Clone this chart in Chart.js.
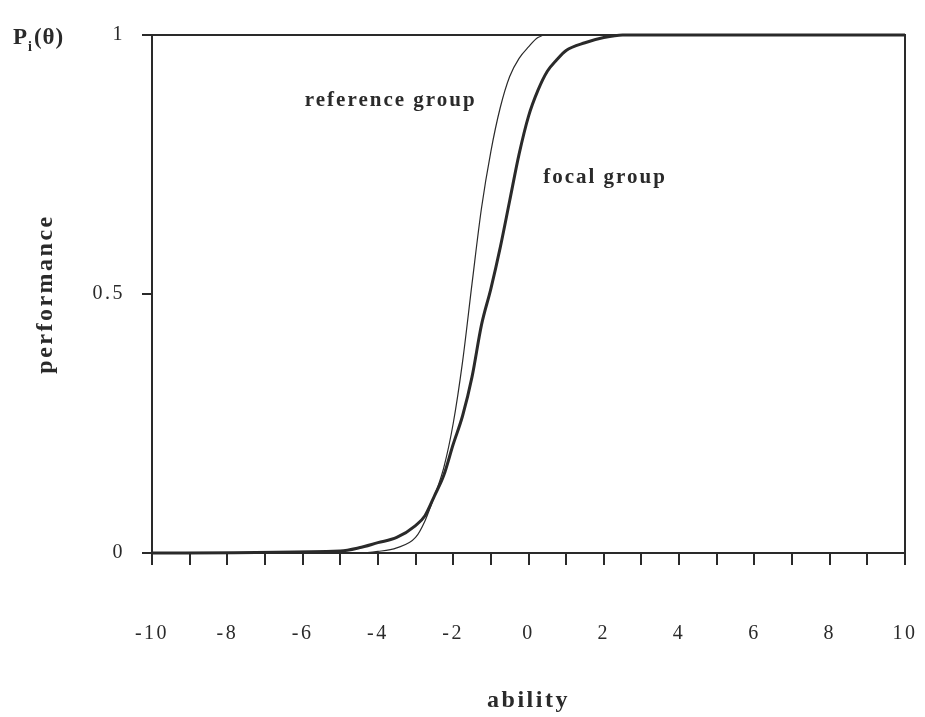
<!DOCTYPE html>
<html>
<head>
<meta charset="utf-8">
<script src="https://cdn.jsdelivr.net/npm/chart.js@4/dist/chart.umd.min.js"></script>
<style>
  html, body { margin: 0; padding: 0; background: #fff; }
  canvas { display: block; }
</style>
</head>
<body>
<canvas id="iccChart" width="925" height="717"></canvas>
<script>
// ability values (x) shared by both curves
const ability = [-10, -5, -4.5, -4, -3.5, -3, -2.75, -2.5, -2.25, -2, -1.75, -1.5, -1.25, -1,
    -0.75, -0.5, -0.25, 0, 0.25, 0.5, 0.75, 1, 1.5, 2, 2.5, 3, 4, 6, 8, 10];

// performance P_i(theta)
const referenceGroup = [0, 0, 0, 0.003, 0.01, 0.03, 0.062, 0.11, 0.165, 0.25, 0.37, 0.52, 0.665, 0.775,
    0.86, 0.92, 0.955, 0.977, 0.995, 1, 1, 1, 1, 1, 1, 1, 1, 1, 1, 1];
const focalGroup = [0, 0.004, 0.01, 0.02, 0.03, 0.053, 0.072, 0.11, 0.15, 0.21, 0.265, 0.34, 0.44, 0.51,
    0.59, 0.68, 0.77, 0.843, 0.893, 0.93, 0.952, 0.97, 0.985, 0.995, 1, 1, 1, 1, 1, 1];

const yTicks = [0, 0.5, 1];

// curve labels in data coordinates
const curveLabels = [
    { text: 'reference group', x: -5.94, y: 0.874 },
    { text: 'focal group', x: 0.39, y: 0.725 }
];

const INK = '#2a2a2a';
const SERIF = '"Liberation Serif", "Times New Roman", serif';

function toPoints(ys) {
    return ability.map((x, i) => ({ x: x, y: ys[i] }));
}

// the scanned type is widely spaced
const spacing = {
    id: 'spacing',
    beforeDraw(chart) { chart.ctx.letterSpacing = '2.5px'; }
};

// box round the plot, curve labels and the P_i(θ) heading
const decorations = {
    id: 'decorations',
    afterDraw(chart) {
        const ctx = chart.ctx;
        const area = chart.chartArea;
        const xs = chart.scales.x;
        const ys = chart.scales.y;
        ctx.save();
        ctx.strokeStyle = INK;
        ctx.lineWidth = 2;
        ctx.strokeRect(area.left, area.top, area.right - area.left, area.bottom - area.top);

        ctx.fillStyle = INK;
        ctx.font = 'bold 21px ' + SERIF;
        ctx.textBaseline = 'middle';
        ctx.textAlign = 'left';
        ctx.letterSpacing = '2px';
        curveLabels.forEach(l => {
            ctx.fillText(l.text, xs.getPixelForValue(l.x), ys.getPixelForValue(l.y));
        });

        // P_i(θ)
        ctx.letterSpacing = '1px';
        ctx.font = 'bold 23px ' + SERIF;
        ctx.fillText('P', 13, 38);
        const pw = ctx.measureText('P').width;
        ctx.font = 'bold 14px ' + SERIF;
        ctx.fillText('i', 13 + pw, 47);
        const iw = ctx.measureText('i').width;
        ctx.font = 'bold 23px ' + SERIF;
        ctx.fillText('(θ)', 13 + pw + iw + 1, 38);
        ctx.restore();
    }
};

const config = {
    type: 'line',
    data: {
        datasets: [
            {
                label: 'reference group',
                data: toPoints(referenceGroup),
                borderColor: INK,
                borderWidth: 1.2,
                pointRadius: 0,
                cubicInterpolationMode: 'monotone',
                clip: 6
            },
            {
                label: 'focal group',
                data: toPoints(focalGroup),
                borderColor: INK,
                borderWidth: 3,
                pointRadius: 0,
                cubicInterpolationMode: 'monotone',
                clip: 6
            }
        ]
    },
    options: {
        responsive: false,
        animation: false,
        layout: { padding: { left: 0, right: 20, top: 35, bottom: 0 } },
        plugins: {
            legend: { display: false },
            tooltip: { enabled: false }
        },
        scales: {
            x: {
                type: 'linear',
                min: -10,
                max: 10,
                afterFit(scale) {
                    scale.height = 164;
                    scale.paddingLeft = 0;
                    scale.paddingRight = 0;
                },
                border: { display: true, color: INK, width: 2 },
                grid: { drawOnChartArea: false, drawTicks: true, tickLength: 12, color: INK, lineWidth: 2 },
                ticks: {
                    stepSize: 1,
                    autoSkip: false,
                    maxRotation: 0,
                    padding: 57,
                    color: INK,
                    font: { family: SERIF, size: 20 },
                    callback: v => (v % 2 === 0 ? String(v) : '')
                },
                title: {
                    display: true,
                    text: 'ability',
                    color: INK,
                    font: { family: SERIF, size: 24, weight: 'bold' },
                    padding: { top: 0, bottom: 2 }
                }
            },
            y: {
                min: 0,
                max: 1,
                afterFit(scale) { scale.width = 152; },
                afterBuildTicks(scale) { scale.ticks = yTicks.map(v => ({ value: v })); },
                border: { display: true, color: INK, width: 2 },
                grid: { drawOnChartArea: false, drawTicks: true, tickLength: 10, color: INK, lineWidth: 2 },
                ticks: {
                    padding: 17,
                    color: INK,
                    font: { family: SERIF, size: 20 },
                    callback: v => String(v)
                },
                title: {
                    display: true,
                    text: 'performance',
                    color: INK,
                    font: { family: SERIF, size: 24, weight: 'bold' },
                    padding: { top: 31, bottom: 0 }
                }
            }
        }
    },
    plugins: [spacing, decorations]
};

window.addEventListener('load', () => {
    const ctx = document.getElementById('iccChart').getContext('2d');
    new Chart(ctx, config);
});
</script>
</body>
</html>
